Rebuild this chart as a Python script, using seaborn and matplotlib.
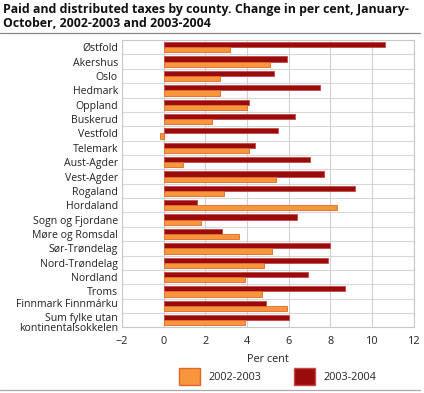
import pandas as pd
import seaborn as sns
import matplotlib.pyplot as plt
from matplotlib.patches import Patch
from matplotlib.lines import Line2D
from matplotlib.transforms import ScaledTranslation

sns.set_theme(style="white")
plt.rcParams["font.family"] = ["Open Sans", "DejaVu Sans"]

# Data
counties = [
    "Østfold", "Akershus", "Oslo", "Hedmark", "Oppland", "Buskerud",
    "Vestfold", "Telemark", "Aust-Agder", "Vest-Agder", "Rogaland",
    "Hordaland", "Sogn og Fjordane", "Møre og Romsdal", "Sør-Trøndelag",
    "Nord-Trøndelag", "Nordland", "Troms", "Finnmark Finnmárku",
    "Sum fylke utan\nkontinentalsokkelen",
]
change_2002_2003 = [3.2, 5.1, 2.7, 2.7, 4.0, 2.3, -0.2, 4.1, 0.9, 5.4,
                    2.9, 8.3, 1.8, 3.6, 5.2, 4.8, 3.9, 4.7, 5.9, 3.9]
change_2003_2004 = [10.6, 5.9, 5.3, 7.5, 4.1, 6.3, 5.5, 4.4, 7.0, 7.7,
                    9.2, 1.6, 6.4, 2.8, 8.0, 7.9, 6.9, 8.7, 4.9, 6.0]
periods = ["2002-2003", "2003-2004"]

orange = "#F7963A"
darkred = "#9A0C0C"
orange_edge = "#E0662C"
darkred_edge = "#C84848"

df = pd.concat([
    pd.DataFrame({"county": counties, "value": change_2003_2004, "period": periods[1]}),
    pd.DataFrame({"county": counties, "value": change_2002_2003, "period": periods[0]}),
])

fig = plt.figure(figsize=(4.24, 3.93), dpi=100)
ax = fig.add_axes([0.288, 0.167, 0.688, 0.731])

sns.barplot(data=df, y="county", x="value", hue="period", orient="h",
            hue_order=[periods[1], periods[0]],
            palette={periods[0]: orange, periods[1]: darkred},
            saturation=1, width=0.72, ax=ax, legend=False, errorbar=None)

# first container is 2003-2004, second 2002-2003
for cont, ec in zip(ax.containers, [darkred_edge, orange_edge]):
    for bar in cont:
        bar.set_edgecolor(ec)
        bar.set_linewidth(0.6)

ax.set_xlim(-2, 12)
ax.set_xticks(range(-2, 13, 2))
ax.set_ylim(len(counties) - 0.5, -0.5)
ax.set_xlabel("Per cent", fontsize=7.8, color="#222222", labelpad=5)
ax.set_ylabel("")
ax.tick_params(axis="x", labelsize=7.8, colors="#222222", length=0, pad=6)
ax.tick_params(axis="y", labelsize=7.6, colors="#222222", length=0, pad=3)
ylabels = ax.get_yticklabels()
ylabels[-1].set_linespacing(0.92)
ylabels[-1].set_transform(ylabels[-1].get_transform()
                          + ScaledTranslation(0, -1.5 / 72, fig.dpi_scale_trans))
ylabels[-2].set_transform(ylabels[-2].get_transform()
                          + ScaledTranslation(0, 2 / 72, fig.dpi_scale_trans))

ax.set_axisbelow(True)
ax.grid(axis="x", color="#D0D0D0", linewidth=0.8)
for k in range(len(counties) - 1):
    ax.axhline(k + 0.5, color="#D8D8D8", linewidth=0.8, zorder=0)
for s in ax.spines.values():
    s.set_color("#C8C8C8")
    s.set_linewidth(0.8)

fig.text(0.008, 0.993, "Paid and distributed taxes by county. Change in per cent, January-\n"
         "October, 2002-2003 and 2003-2004", ha="left", va="top",
         fontsize=8.9, fontweight="bold", color="#111111", linespacing=1.1)
fig.add_artist(Line2D([0.0, 0.99], [0.916, 0.916], color="#888888", linewidth=0.9))
fig.add_artist(Line2D([0.0, 0.99], [0.008, 0.008], color="#AAAAAA", linewidth=0.9))

handles = [Patch(facecolor=orange, edgecolor=orange_edge, label=periods[0]),
           Patch(facecolor=darkred, edgecolor=darkred_edge, label=periods[1])]
fig.legend(handles=handles, loc="center", bbox_to_anchor=(0.655, 0.042), ncol=2,
           frameon=False, fontsize=7.8, handlelength=1.9, handleheight=1.9,
           columnspacing=3.0, handletextpad=0.8)

fig.savefig("out.png", dpi=100)
